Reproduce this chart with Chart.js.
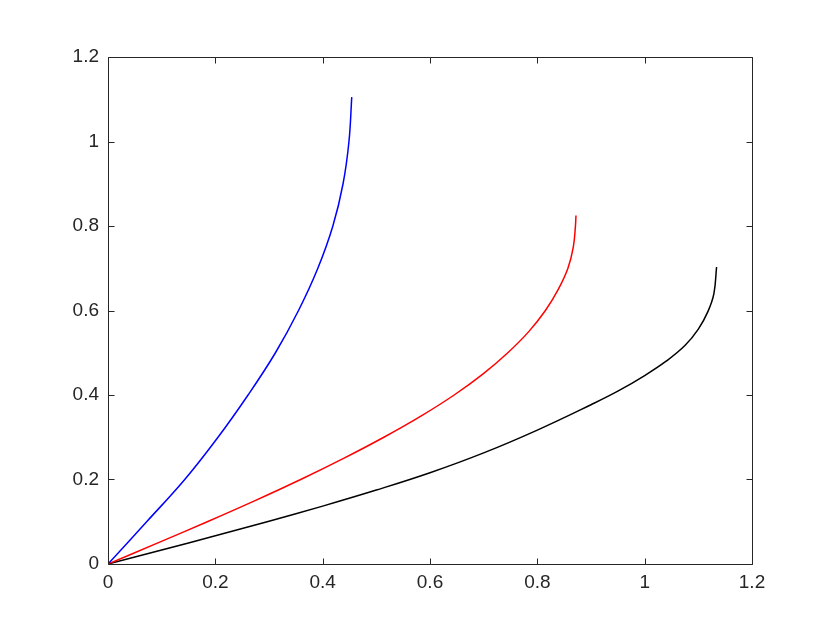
<!DOCTYPE html>
<html>
<head>
<meta charset="utf-8">
<script src="https://cdn.jsdelivr.net/npm/chart.js@4"></script>
<style>
  html, body { margin: 0; padding: 0; background: #fff; }
  canvas { display: block; }
</style>
</head>
<body>
<canvas id="chart" width="830" height="642"></canvas>
<script>
// valores
const blueX = [0, 0.072, 0.143, 0.205, 0.261, 0.312, 0.355, 0.391, 0.419, 0.438, 0.449, 0.4542];
const blueY = [0, 0.1, 0.2, 0.3, 0.4, 0.5, 0.6, 0.7, 0.8, 0.9, 1.0, 1.105];

const redX = [0, 0.093, 0.185, 0.274, 0.359, 0.439, 0.514, 0.583, 0.645, 0.699, 0.745, 0.784, 0.815, 0.839, 0.857, 0.867, 0.871, 0.872];
const redY = [0, 0.05, 0.1, 0.15, 0.2, 0.25, 0.3, 0.35, 0.4, 0.45, 0.5, 0.55, 0.6, 0.65, 0.7, 0.75, 0.8, 0.825];

const blackX = [0, 0.1, 0.2, 0.3, 0.4, 0.5, 0.6, 0.7, 0.8, 0.9, 0.95, 1.0, 1.04, 1.075, 1.10, 1.118, 1.129, 1.134];
const blackY = [0, 0.033, 0.067, 0.101, 0.137, 0.175, 0.216, 0.263, 0.317, 0.377, 0.409, 0.446, 0.480, 0.517, 0.556, 0.598, 0.640, 0.703];

const tickValues = [0, 0.2, 0.4, 0.6, 0.8, 1, 1.2];
const tickLabels = ["0", "0.2", "0.4", "0.6", "0.8", "1", "1.2"];

const axisColor = "#262626";

function pts(xs, ys) {
  return xs.map((x, i) => ({ x: x, y: ys[i] }));
}

function serie(xs, ys, color) {
  return {
    data: pts(xs, ys),
    borderColor: color,
    borderWidth: 1.5,
    showLine: true,
    pointRadius: 0,
    tension: 0.4,
    fill: false
  };
}

// caja y marcas hacia dentro, como en MATLAB
const boxPlugin = {
  id: "box",
  afterDraw(chart) {
    const { ctx, chartArea: a, scales } = chart;
    const L = Math.round(a.left) + 0.5, R = Math.round(a.right) + 0.5;
    const T = Math.round(a.top) + 0.5, B = Math.round(a.bottom) + 0.5;
    const len = 6;
    ctx.save();
    ctx.strokeStyle = axisColor;
    ctx.lineWidth = 1;
    ctx.beginPath();
    ctx.rect(L, T, R - L, B - T);
    tickValues.forEach(v => {
      const px = Math.round(scales.x.getPixelForValue(v)) + 0.5;
      ctx.moveTo(px, B); ctx.lineTo(px, B - len);
      ctx.moveTo(px, T); ctx.lineTo(px, T + len);
      const py = Math.round(scales.y.getPixelForValue(v)) + 0.5;
      ctx.moveTo(L, py); ctx.lineTo(L + len, py);
      ctx.moveTo(R, py); ctx.lineTo(R - len, py);
    });
    ctx.stroke();
    ctx.restore();
  }
};

function setTicks(scale) {
  scale.ticks = tickValues.map(v => ({ value: v }));
}

const font = { family: "'Liberation Sans', Arial, Helvetica, sans-serif", size: 19 };

new Chart(document.getElementById("chart").getContext("2d"), {
  type: "scatter",
  data: {
    datasets: [
      serie(blueX, blueY, "#0000ff"),
      serie(redX, redY, "#ff0000"),
      serie(blackX, blackY, "#000000")
    ]
  },
  options: {
    responsive: false,
    animation: false,
    layout: { padding: { left: 0, top: 57, right: 78, bottom: 0 } },
    plugins: { legend: { display: false }, tooltip: { enabled: false } },
    scales: {
      x: {
        type: "linear",
        min: 0,
        max: 1.2,
        afterBuildTicks: setTicks,
        afterFit: s => { s.height = 78; },
        grid: { display: false, drawTicks: false },
        border: { display: false },
        ticks: {
          color: axisColor,
          font: font,
          padding: 7,
          maxRotation: 0,
          callback: (v) => tickLabels[tickValues.indexOf(v)]
        }
      },
      y: {
        type: "linear",
        min: 0,
        max: 1.2,
        afterBuildTicks: setTicks,
        afterFit: s => { s.width = 108; },
        grid: { display: false, drawTicks: false },
        border: { display: false },
        ticks: {
          color: axisColor,
          font: font,
          padding: 9,
          callback: (v) => tickLabels[tickValues.indexOf(v)]
        }
      }
    }
  },
  plugins: [boxPlugin]
});
</script>
</body>
</html>
